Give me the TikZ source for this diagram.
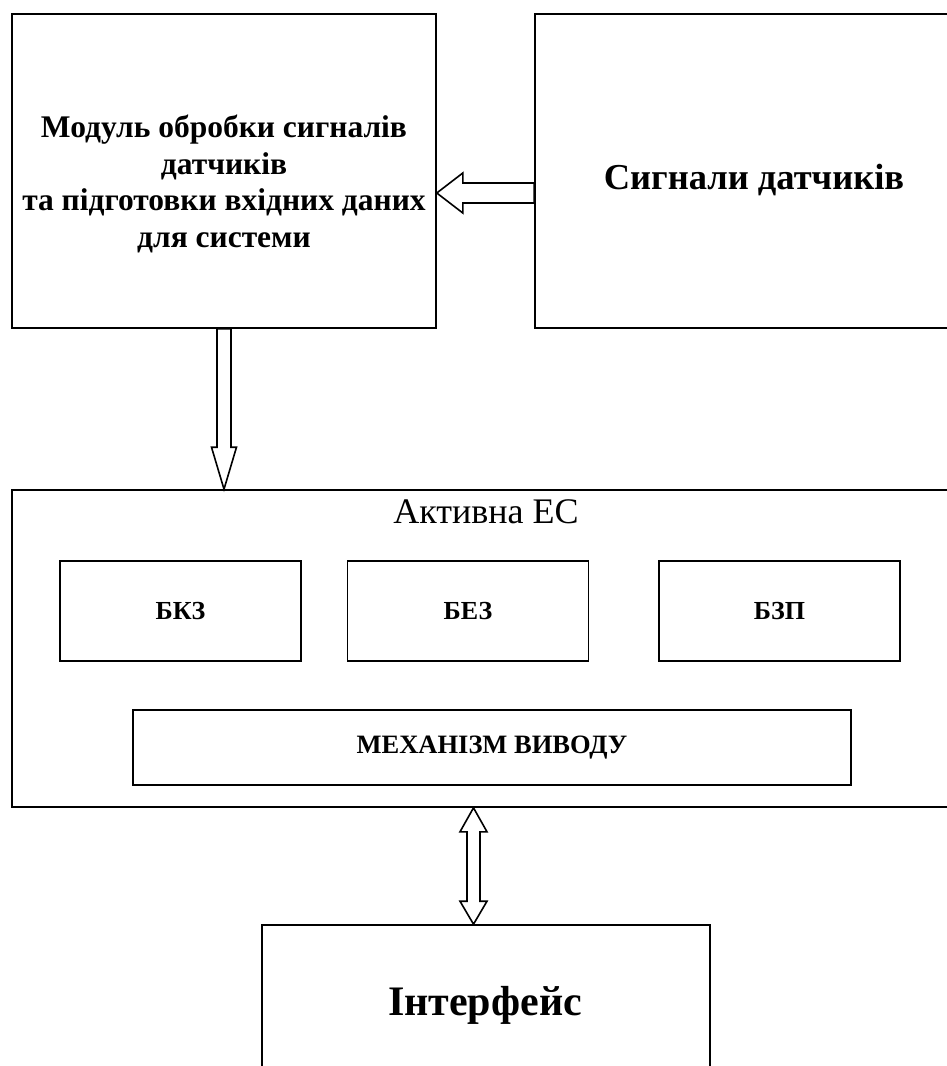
\documentclass[tikz,border=0pt]{standalone}
\usepackage{fontspec}
\setmainfont{Liberation Serif}
\usetikzlibrary{calc}

\tikzset{
  box/.style={draw=black, line width=1.6pt, inner sep=0pt},
  smallbox/.style={box, minimum width=241pt, minimum height=100pt,
    font=\fontsize{26}{30}\selectfont\bfseries},
  hollow/.style={draw=black, fill=white, line width=1.6pt, line join=miter}
}

\begin{document}
\begin{tikzpicture}[x=1pt, y=-1pt]
  \clip (0,0) rectangle (947,1066);
  \useasboundingbox (0,0) rectangle (947,1066);

  % Top blocks
  \node[box, minimum width=424pt, minimum height=314pt] (mod) at (224,171) {};
  \node[align=center, font=\fontsize{31.5}{36.5}\selectfont\bfseries] (modtxt)
        at (224,184)
        {Модуль обробки сигналів\\датчиків\\та підготовки вхідних даних\\для системи};
  \node[box, minimum width=440pt, minimum height=314pt] (sig) at (755,171) {};
  \node[font=\fontsize{36.5}{42}\selectfont\bfseries] (sigtxt) at (754,180)
        {Сигнали датчиків};

  % Expert system
  \node[box, minimum width=946pt, minimum height=317pt] (es) at (485,648.5) {};
  \node[font=\fontsize{36}{42}\selectfont] (estitle) at (486,512) {Активна ЕС};
  \node[smallbox] (bkz) at (180.5,611) {БКЗ};
  \node[smallbox] (bez) at (468,611) {БЕЗ};
  \node[smallbox] (bzp) at (779.5,611) {БЗП};
  \node[box, minimum width=718pt, minimum height=75pt,
        font=\fontsize{26.5}{30}\selectfont\bfseries] (mech) at (492,747.5)
        {МЕХАНІЗМ ВИВОДУ};

  % Interface
  \node[box, minimum width=448pt, minimum height=200pt] (intf) at (486,1025) {};
  \node[font=\fontsize{42}{48}\selectfont\bfseries] (intftxt) at (485,1005)
        {Інтерфейс};

  % Arrows
  \coordinate (h1) at ([yshift=-22pt]sig.west);
  \coordinate (h2) at (h1 -| mod.east);
  \draw[hollow] (h2) -- ++(26,-20) -- ++(0,10) -- ($(h1)+(0,-10)$)
    -- ($(h1)+(0,10)$) -- ($(h2)+(26,10)$) -- ++(0,10) -- cycle;

  \coordinate (v1) at (mod.south);
  \coordinate (v2) at (mod.south |- es.north);
  \draw[hollow] (v2) -- ++(-12.5,-42) -- ++(5.5,0) -- ($(v1)+(-7,0)$)
    -- ($(v1)+(7,0)$) -- ($(v2)+(7,-42)$) -- ++(5.5,0) -- cycle;

  \coordinate (d1) at ([xshift=-11.5pt]es.south);
  \coordinate (d2) at (d1 |- intf.north);
  \draw[hollow] (d1) -- ++(13.5,24) -- ++(-7,0) -- ($(d2)+(6.5,-23)$)
    -- ++(7,0) -- (d2) -- ++(-13.5,-23) -- ++(7,0)
    -- ($(d1)+(-6.5,24)$) -- ++(-7,0) -- cycle;
\end{tikzpicture}
\end{document}
